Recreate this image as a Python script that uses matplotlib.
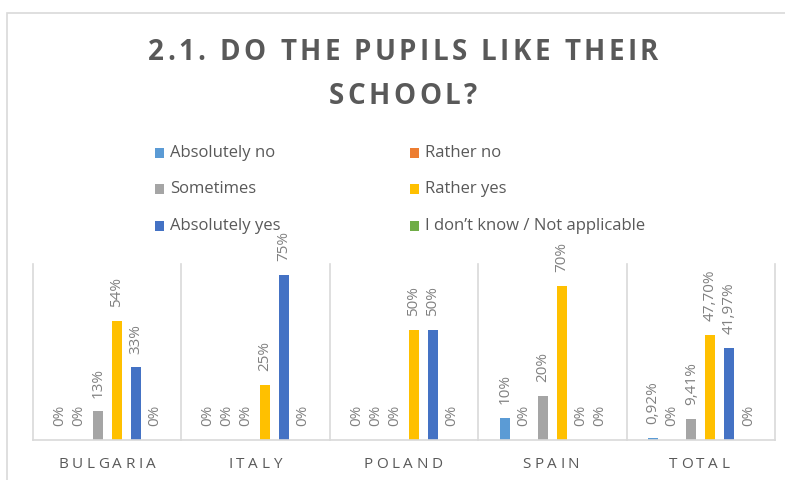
import matplotlib
matplotlib.use("Agg")
import matplotlib.pyplot as plt
from matplotlib.patches import Rectangle
import numpy as np

categories = ["BULGARIA", "ITALY", "POLAND", "SPAIN", "TOTAL"]
series_names = ["Absolutely no", "Rather no", "Sometimes", "Rather yes",
                "Absolutely yes", "I don\u2019t know / Not applicable"]
series_colors = ["#5B9BD5", "#ED7D31", "#A5A5A5", "#FFC000", "#4472C4", "#70AD47"]
values = [
    [0.00, 0.00, 0.00, 0.10, 0.0092],    # Absolutely no
    [0.00, 0.00, 0.00, 0.00, 0.00],      # Rather no
    [0.13, 0.00, 0.00, 0.20, 0.0941],    # Sometimes
    [0.54, 0.25, 0.50, 0.70, 0.4770],    # Rather yes
    [0.33, 0.75, 0.50, 0.00, 0.4197],    # Absolutely yes
    [0.00, 0.00, 0.00, 0.00, 0.00],      # I don't know
]
labels = [
    ["0%", "0%", "0%", "10%", "0,92%"],
    ["0%", "0%", "0%", "0%", "0%"],
    ["13%", "0%", "0%", "20%", "9,41%"],
    ["54%", "25%", "50%", "70%", "47,70%"],
    ["33%", "75%", "50%", "0%", "41,97%"],
    ["0%", "0%", "0%", "0%", "0%"],
]
title_lines = ["2.1. DO THE PUPILS LIKE THEIR", "SCHOOL?"]

FONT = "Open Sans"
W, H = 785, 480
fig = plt.figure(figsize=(W / 100, H / 100), dpi=100)
renderer = fig.canvas.get_renderer()


def spaced_text(xc, yc, s, spacing, **kw):
    """Draw string s centred at pixel (xc, yc) with extra letter spacing (px)."""
    widths = []
    for ch in s:
        t = fig.text(0, 0, ch if ch != " " else "a a", **kw)
        w = t.get_window_extent(renderer).width
        if ch == " ":
            t2 = fig.text(0, 0, "aa", **kw)
            w = w - t2.get_window_extent(renderer).width
            t2.remove()
        t.remove()
        widths.append(w)
    total = sum(widths) + spacing * (len(s) - 1)
    xpos = xc - total / 2
    for ch, w in zip(s, widths):
        if ch != " ":
            fig.text(xpos / W, 1 - yc / H, ch, ha="left", va="center", **kw)
        xpos += w + spacing


# chart border
fig.patches.append(Rectangle((7 / W, -0.01), 1.0, 1 - 13 / H + 0.01,
                             transform=fig.transFigure, fill=False,
                             edgecolor="#D9D9D9", linewidth=1.2))

ax = fig.add_axes([33 / W, 1 - 440 / H, (775 - 33) / W, (440 - 264) / H])
ax.set_xlim(-0.5, len(categories) - 0.5)
ax.set_ylim(0, 0.8)
for s in ax.spines.values():
    s.set_visible(False)
ax.set_yticks([])
ax.set_xticks([])

pitch = 19 / 148
bw = 10 / 148
x = np.arange(len(categories))
for i, (vals, col, labs) in enumerate(zip(values, series_colors, labels)):
    pos = x + (i - 2.5) * pitch
    ax.bar(pos, vals, width=bw, color=col, zorder=3)
    for p, v, lab in zip(pos, vals, labs):
        ax.annotate(lab, (p, v), xytext=(0, 10), textcoords="offset points",
                    rotation=90, ha="center", va="bottom", fontsize=11,
                    color="#808080", family=FONT)

# separators and baseline
for b in np.arange(len(categories) + 1) - 0.5:
    ax.plot([b, b], [0, 0.8], color="#D9D9D9", lw=1.2, zorder=1, clip_on=False)
ax.plot([-0.5, len(categories) - 0.5], [0, 0], color="#D9D9D9", lw=1.2, zorder=4, clip_on=False)

# category labels (letter-spaced)
for xi, c in zip(x, categories):
    xc = 33 + (xi + 0.5) * 148
    spaced_text(xc, 465, c, 3.5, fontsize=11, color="#595959", family=FONT)

# title (letter-spaced)
tkw = dict(fontsize=20, fontweight="bold", color="#595959", family=FONT)
spaced_text(403, 52, title_lines[0], 3.4, **tkw)
spaced_text(403, 97, title_lines[1], 3.4, **tkw)

# legend (row-wise, 2 columns)
col_x = [155, 410]
row_y = [153, 189, 226]
for k, (name, col) in enumerate(zip(series_names, series_colors)):
    r, c = divmod(k, 2)
    mx, my = col_x[c], row_y[r]
    fig.patches.append(Rectangle((mx / W, 1 - (my + 4.5) / H), 9 / W, 9 / H,
                                 transform=fig.transFigure, facecolor=col, edgecolor="none"))
    fig.text((mx + 15) / W, 1 - my / H, name, ha="left", va="center",
             fontsize=12, color="#595959", family=FONT)

fig.savefig("out.png", dpi=100)
